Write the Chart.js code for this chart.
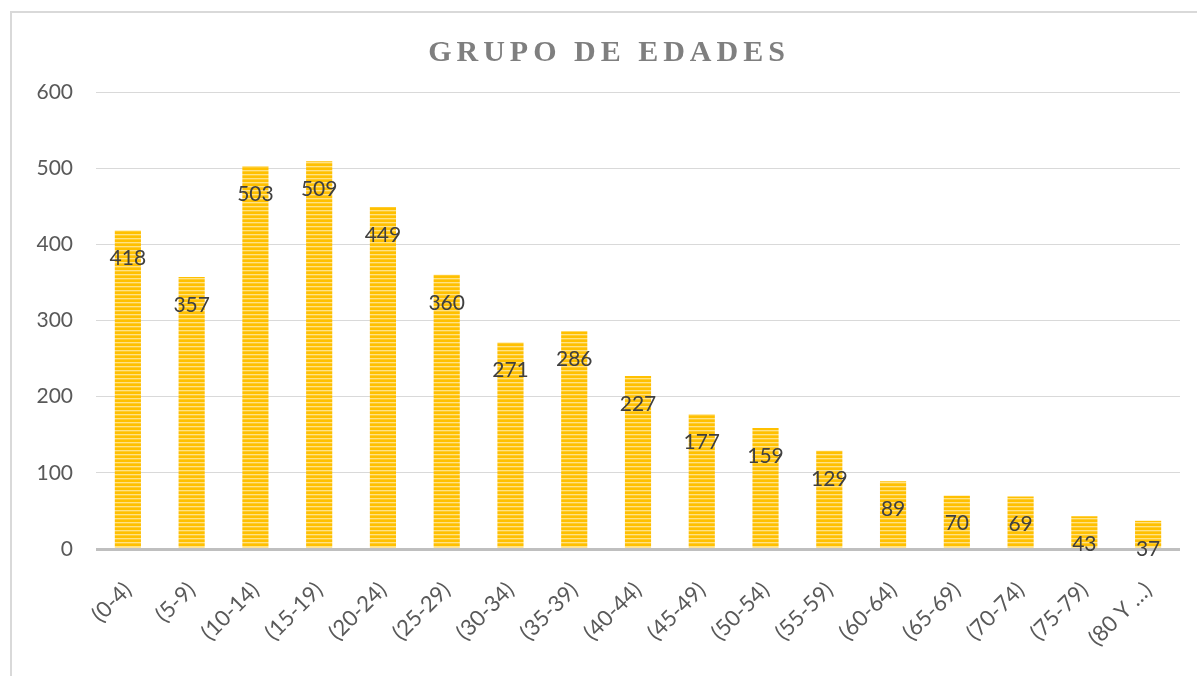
<!DOCTYPE html>
<html>
<head>
<meta charset="utf-8">
<script src="https://cdn.jsdelivr.net/npm/chart.js@4/dist/chart.umd.min.js"></script>
<style>
    html, body { margin: 0; padding: 0; background: #fff; }
    #wrap { width: 1197px; height: 676px; }
</style>
</head>
<body>
<div id="wrap"><canvas id="edadesChart" width="1197" height="676"></canvas></div>
<script>
const titleText = 'GRUPO DE EDADES';
const ageGroups = ['(0-4)', '(5-9)', '(10-14)', '(15-19)', '(20-24)', '(25-29)', '(30-34)', '(35-39)',
    '(40-44)', '(45-49)', '(50-54)', '(55-59)', '(60-64)', '(65-69)', '(70-74)', '(75-79)', '(80 Y …)'];
const counts = [418, 357, 503, 509, 449, 360, 271, 286, 227, 177, 159, 129, 89, 70, 69, 43, 37];
const yTicks = [0, 100, 200, 300, 400, 500, 600];

// striped yellow fill like the original bars
function makeStripes() {
    const c = document.createElement('canvas');
    c.width = 4;
    c.height = 4;
    const g = c.getContext('2d');
    const rows = ['#FFC000', '#FFC000', '#FFE285', '#FFCB2E'];
    rows.forEach((col, i) => {
        g.fillStyle = col;
        g.fillRect(0, i, 4, 1);
    });
    return g.createPattern(c, 'repeat');
}

const framePlugin = {
    id: 'frame',
    beforeDraw(chart) {
        const ctx = chart.ctx;
        ctx.save();
        ctx.fillStyle = '#fff';
        ctx.fillRect(0, 0, chart.width, chart.height);
        ctx.strokeStyle = '#d9d9d9';
        ctx.lineWidth = 2;
        ctx.beginPath();
        ctx.moveTo(11, chart.height);
        ctx.lineTo(11, 12);
        ctx.lineTo(chart.width, 12);
        ctx.stroke();

        ctx.fillStyle = '#7f7f7f';
        ctx.font = 'bold 30px "Liberation Serif", "Times New Roman", serif';
        ctx.letterSpacing = '5px';
        ctx.textAlign = 'center';
        ctx.textBaseline = 'alphabetic';
        ctx.fillText(titleText, 609, 61);
        ctx.restore();
    }
};

const valueLabels = {
    id: 'valueLabels',
    afterDatasetsDraw(chart) {
        const ctx = chart.ctx;
        const meta = chart.getDatasetMeta(0);
        ctx.save();
        ctx.fillStyle = '#404040';
        ctx.font = '21px Lato, "Open Sans", sans-serif';
        ctx.textAlign = 'center';
        ctx.textBaseline = 'middle';
        meta.data.forEach((bar, i) => {
            ctx.fillText(counts[i], bar.x, bar.y + 28);
        });
        ctx.restore();
    }
};

const ctx = document.getElementById('edadesChart').getContext('2d');
new Chart(ctx, {
    type: 'bar',
    data: {
        labels: ageGroups,
        datasets: [{
            label: 'Grupo de edades',
            data: counts,
            backgroundColor: makeStripes(),
            borderWidth: 0,
            barPercentage: 0.41,
            categoryPercentage: 1
        }]
    },
    options: {
        responsive: false,
        animation: false,
        layout: {
            padding: { top: 92, right: 17, bottom: 0, left: 0 }
        },
        scales: {
            y: {
                min: 0,
                max: 600,
                afterBuildTicks(scale) {
                    scale.ticks = yTicks.map(v => ({ value: v }));
                },
                afterFit(scale) {
                    scale.width = 96;
                },
                ticks: {
                    color: '#595959',
                    font: { family: 'Lato, "Open Sans", sans-serif', size: 21 },
                    padding: 23
                },
                grid: {
                    drawTicks: false,
                    color: c => c.tick && c.tick.value === 0 ? '#bfbfbf' : '#d9d9d9',
                    lineWidth: c => c.tick && c.tick.value === 0 ? 3 : 1
                },
                border: { display: false }
            },
            x: {
                afterFit(scale) {
                    scale.height = 127;
                },
                ticks: {
                    color: '#595959',
                    font: { family: 'Lato, "Open Sans", sans-serif', size: 22 },
                    minRotation: 45,
                    maxRotation: 45,
                    autoSkip: false,
                    padding: 28
                },
                grid: { display: false, drawTicks: false },
                border: { display: false }
            }
        },
        plugins: {
            legend: { display: false },
            title: { display: false },
            tooltip: { enabled: false }
        }
    },
    plugins: [framePlugin, valueLabels]
});
</script>
</body>
</html>
